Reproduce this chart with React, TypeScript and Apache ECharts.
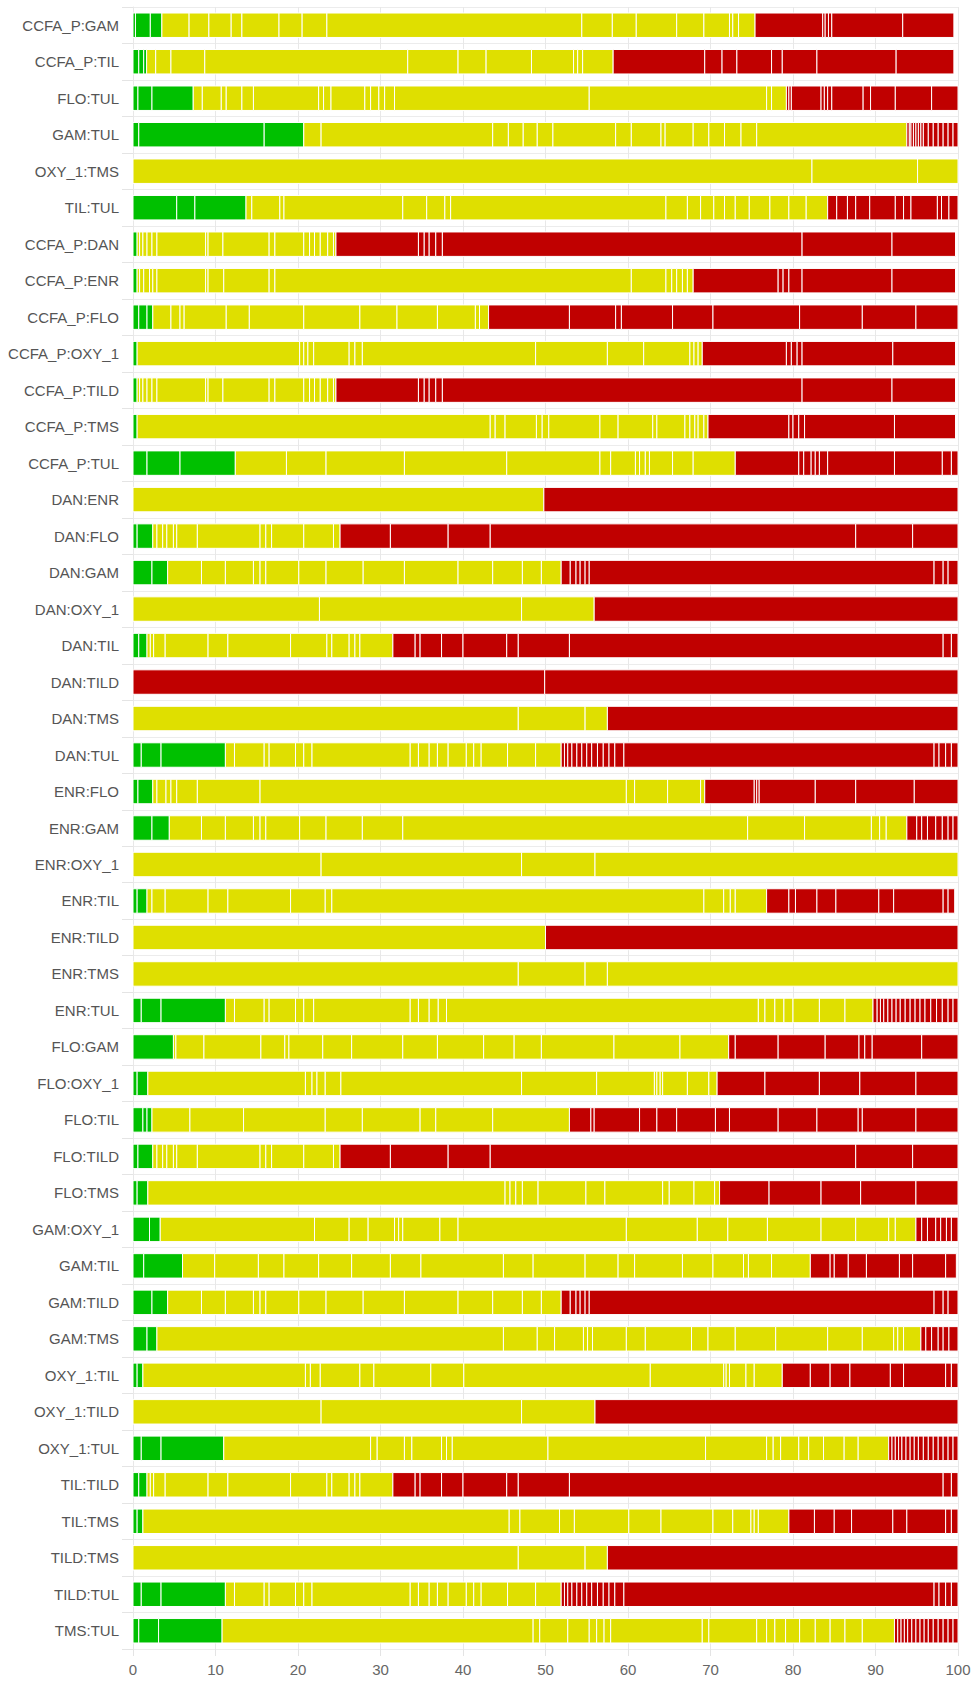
import React, { useEffect, useRef } from "react";
import * as echarts from "echarts";

const categories = [
  "CCFA_P:GAM", "CCFA_P:TIL", "FLO:TUL", "GAM:TUL", "OXY_1:TMS", "TIL:TUL",
  "CCFA_P:DAN", "CCFA_P:ENR", "CCFA_P:FLO", "CCFA_P:OXY_1", "CCFA_P:TILD", "CCFA_P:TMS",
  "CCFA_P:TUL", "DAN:ENR", "DAN:FLO", "DAN:GAM", "DAN:OXY_1", "DAN:TIL", "DAN:TILD",
  "DAN:TMS", "DAN:TUL", "ENR:FLO", "ENR:GAM", "ENR:OXY_1", "ENR:TIL", "ENR:TILD",
  "ENR:TMS", "ENR:TUL", "FLO:GAM", "FLO:OXY_1", "FLO:TIL", "FLO:TILD", "FLO:TMS",
  "GAM:OXY_1", "GAM:TIL", "GAM:TILD", "GAM:TMS", "OXY_1:TIL", "OXY_1:TILD",
  "OXY_1:TUL", "TIL:TILD", "TIL:TMS", "TILD:TMS", "TILD:TUL", "TMS:TUL",
];

const xTicks = [0, 10, 20, 30, 40, 50, 60, 70, 80, 90, 100];

// cumulative end positions (%) of each green segment, per row
const greenEnds: number[][] = [
  [0.3, 2.1, 3.5],
  [0.7, 1.3, 1.65],
  [0.6, 2.3, 7.3],
  [0.7, 15.9, 20.7],
  [],
  [5.3, 7.5, 13.7],
  [0.5],
  [0.5],
  [0.7, 1.7, 2.4],
  [0.5],
  [0.5],
  [0.5],
  [1.7, 5.7, 12.4],
  [],
  [0.5, 2.4],
  [2.3, 4.2],
  [],
  [0.7, 1.7],
  [],
  [],
  [1.0, 3.4, 11.2],
  [0.6, 2.4],
  [2.3, 4.4],
  [],
  [0.5, 1.7],
  [],
  [],
  [1.0, 3.4, 11.2],
  [4.9],
  [0.5, 1.8],
  [1.2, 1.7, 2.3],
  [0.6, 2.4],
  [0.5, 1.8],
  [2.0, 3.3],
  [1.3, 6.0],
  [2.3, 4.2],
  [1.7, 2.9],
  [0.5, 1.2],
  [],
  [1.0, 3.4, 11.0],
  [0.7, 1.7],
  [0.5, 1.2],
  [],
  [1.0, 3.4, 11.2],
  [0.7, 3.1, 10.8],
];

// cumulative end positions (%) of each yellow segment, per row
const yellowEnds: number[][] = [
  [6.8, 9.2, 11.9, 13.2, 17.7, 20.5, 23.5, 54.4, 58.1, 61.0, 65.9, 69.2, 72.3, 72.7, 73.4, 75.4],
  [2.75, 4.6, 8.7, 33.3, 39.4, 42.8, 48.3, 53.4, 53.9, 54.5, 58.2],
  [8.4, 10.7, 11.3, 13.2, 14.6, 22.5, 23.1, 24.0, 28.1, 28.8, 29.8, 30.5, 31.7, 55.3, 76.8, 77.4, 79.2],
  [22.8, 43.6, 45.5, 47.3, 49.0, 50.9, 58.5, 60.4, 64.0, 64.5, 67.9, 69.8, 71.7, 73.7, 75.6, 93.8],
  [82.3, 95.1, 100],
  [14.4, 17.8, 18.3, 32.7, 35.6, 37.8, 38.5, 64.6, 67.2, 68.8, 70.4, 71.7, 73.0, 74.7, 77.2, 79.5, 81.6, 84.2],
  [0.8, 1.2, 1.7, 2.3, 2.9, 8.8, 9.1, 10.9, 16.5, 17.2, 20.7, 21.4, 22.0, 22.7, 23.6, 24.3, 24.6],
  [0.8, 1.3, 2.0, 2.4, 2.9, 8.8, 9.1, 11.0, 16.5, 17.2, 60.4, 64.6, 65.3, 65.9, 66.6, 67.2, 67.9],
  [4.6, 5.7, 6.2, 11.3, 14.1, 20.7, 27.5, 32.0, 36.9, 41.5, 42.0, 43.1],
  [20.2, 20.7, 21.2, 21.9, 26.2, 26.9, 27.8, 48.8, 57.5, 61.9, 67.5, 68.0, 68.5, 69.0],
  [0.8, 1.2, 1.7, 2.3, 2.9, 8.8, 9.1, 10.9, 16.5, 17.2, 20.7, 21.4, 22.0, 22.7, 23.6, 24.3, 24.6],
  [43.3, 43.9, 45.1, 48.9, 49.6, 50.4, 56.6, 58.8, 63.0, 63.5, 66.9, 67.5, 68.1, 68.5, 69.2, 69.7],
  [18.6, 23.4, 32.9, 45.3, 56.6, 57.9, 60.9, 61.4, 62.1, 62.6, 65.4, 67.9, 73.0],
  [49.8],
  [2.9, 3.6, 4.1, 4.9, 5.3, 7.8, 15.4, 16.1, 16.8, 20.7, 24.3, 25.1],
  [8.3, 11.2, 14.6, 15.4, 16.1, 20.1, 23.4, 27.9, 32.9, 39.4, 43.6, 47.2, 49.5, 51.9],
  [22.6, 47.1, 55.9],
  [2.1, 2.5, 3.9, 9.1, 11.5, 19.1, 23.5, 24.1, 26.2, 26.9, 27.5, 31.5],
  [],
  [46.7, 54.8, 57.5],
  [12.3, 15.9, 16.5, 19.7, 20.7, 21.7, 33.6, 34.6, 35.9, 36.9, 38.2, 40.4, 41.3, 42.2, 45.4, 48.8, 51.9],
  [2.9, 4.0, 4.6, 5.3, 7.8, 15.4, 59.8, 60.8, 64.8, 68.8, 69.3],
  [8.3, 11.2, 14.6, 15.4, 16.1, 20.2, 23.4, 27.8, 32.7, 74.5, 81.4, 89.5, 90.5, 91.3, 93.8],
  [22.8, 47.1, 56.0, 100],
  [2.3, 3.9, 9.1, 11.5, 19.1, 23.3, 24.1, 69.2, 71.6, 72.4, 73.0, 76.8],
  [50.0],
  [46.7, 54.8, 57.5, 100],
  [12.3, 15.9, 16.5, 19.7, 20.7, 21.9, 33.6, 34.6, 35.9, 37.0, 38.0, 75.8, 76.6, 77.8, 78.9, 80.0, 83.2, 86.3, 89.7],
  [5.2, 8.6, 15.5, 18.4, 18.9, 23.0, 26.5, 32.7, 36.9, 42.5, 46.2, 49.5, 58.3, 66.3, 72.2],
  [20.9, 21.7, 22.3, 23.3, 25.2, 47.1, 56.2, 63.2, 63.5, 63.9, 64.2, 67.2, 69.8, 70.8],
  [6.9, 13.4, 23.3, 27.8, 34.8, 36.7, 43.6, 52.9],
  [2.9, 3.6, 4.1, 4.9, 5.3, 7.8, 15.4, 16.1, 16.8, 20.7, 24.3, 25.1],
  [45.1, 45.7, 46.4, 47.2, 49.1, 54.9, 57.2, 64.2, 65.0, 68.0, 70.5, 71.1],
  [22.0, 26.2, 28.5, 31.7, 32.2, 32.7, 37.2, 39.4, 59.8, 68.4, 72.1, 76.9, 83.4, 87.6, 91.6, 92.4, 94.9],
  [9.9, 15.2, 18.3, 22.5, 26.5, 31.2, 34.9, 44.9, 48.5, 54.8, 58.8, 60.8, 66.6, 70.3, 74.0, 74.6, 77.4, 82.1],
  [8.3, 11.2, 14.6, 15.4, 16.1, 20.1, 23.4, 27.9, 32.9, 39.4, 43.6, 47.2, 49.5, 51.9],
  [44.9, 49.0, 51.1, 54.6, 55.1, 55.7, 59.8, 62.1, 67.7, 69.7, 73.0, 77.9, 84.2, 88.4, 92.2, 92.7, 93.4, 95.5],
  [20.9, 21.5, 22.7, 27.5, 29.2, 36.1, 40.1, 62.7, 71.6, 71.9, 72.3, 74.3, 75.3, 78.7],
  [22.8, 47.1, 56.0],
  [28.8, 29.6, 32.9, 33.8, 37.4, 38.0, 38.7, 50.3, 69.4, 76.8, 77.6, 78.5, 80.7, 81.9, 83.7, 86.2, 87.9, 91.6],
  [2.1, 2.5, 3.9, 9.1, 11.5, 19.1, 23.5, 24.1, 26.2, 26.9, 27.5, 31.5],
  [45.6, 46.9, 51.7, 53.5, 60.1, 64.0, 70.3, 72.7, 74.9, 75.3, 75.8, 79.5],
  [46.7, 54.8, 57.5],
  [12.3, 15.9, 16.5, 19.7, 20.7, 21.7, 33.6, 34.6, 35.9, 36.9, 38.2, 40.4, 41.3, 42.2, 45.4, 48.8, 51.9],
  [48.5, 49.3, 52.7, 55.3, 56.2, 57.1, 57.9, 69.0, 69.8, 75.6, 76.8, 77.8, 79.1, 80.8, 82.7, 84.5, 86.3, 88.4, 92.3],
];

// cumulative end positions (%) of each red segment, per row
const redEnds: number[][] = [
  [83.6, 83.9, 84.3, 84.7, 93.3, 99.5],
  [69.3, 71.4, 73.2, 77.4, 78.7, 82.9, 92.5, 99.5],
  [79.5, 79.8, 83.4, 83.8, 84.2, 84.7, 88.5, 89.4, 92.4, 96.8, 100],
  [94.1, 94.3, 94.6, 94.9, 95.2, 95.5, 95.8, 96.4, 97.0, 97.6, 98.2, 98.8, 99.4, 100],
  [],
  [85.3, 86.6, 87.6, 89.3, 92.4, 93.4, 94.3, 97.5, 98.0, 98.9, 100],
  [34.6, 35.3, 35.9, 36.7, 37.5, 81.1, 92.0, 99.7],
  [78.2, 78.8, 79.5, 81.1, 92.0, 99.7],
  [52.9, 58.5, 59.2, 65.4, 70.3, 80.8, 88.4, 94.9, 100],
  [79.2, 79.8, 80.5, 81.1, 92.1, 99.7],
  [34.6, 35.3, 35.9, 36.7, 37.5, 81.1, 92.0, 99.7],
  [79.5, 80.0, 80.7, 81.4, 92.3, 99.7],
  [80.7, 81.3, 82.2, 82.7, 83.2, 84.2, 92.3, 98.1, 99.2, 100],
  [100],
  [31.2, 38.2, 43.3, 87.6, 94.5, 100],
  [53.0, 53.7, 54.2, 54.8, 55.3, 97.1, 98.2, 98.8, 100],
  [100],
  [34.2, 34.8, 37.4, 40.0, 45.3, 46.7, 52.9, 98.2, 99.2, 100],
  [49.9, 100],
  [100],
  [52.3, 52.7, 53.2, 53.8, 54.4, 55.0, 55.6, 56.3, 57.0, 57.7, 58.4, 59.5, 97.1, 97.7, 98.5, 99.2, 100],
  [75.3, 75.6, 75.9, 82.7, 87.6, 94.7, 100],
  [95.0, 95.6, 96.3, 97.3, 98.1, 98.8, 99.4, 100],
  [],
  [79.5, 80.3, 82.9, 85.2, 90.4, 92.2, 98.2, 98.8, 99.6],
  [100],
  [],
  [90.2, 90.6, 91.0, 91.5, 92.0, 92.5, 93.0, 93.6, 94.2, 94.8, 95.4, 96.0, 96.7, 97.4, 98.1, 98.8, 99.4, 100],
  [73.0, 78.2, 83.9, 88.0, 88.7, 89.6, 95.6, 100],
  [76.6, 83.2, 88.1, 94.9, 100],
  [55.5, 55.9, 61.4, 63.5, 65.9, 70.6, 72.3, 78.2, 82.9, 87.9, 88.4, 94.9, 100],
  [31.2, 38.2, 43.3, 87.6, 94.5, 100],
  [77.1, 83.4, 88.2, 94.9, 100],
  [95.6, 96.3, 97.3, 97.9, 98.6, 99.2, 100],
  [84.5, 85.0, 86.7, 88.9, 92.9, 94.5, 98.5, 99.8],
  [53.0, 53.7, 54.2, 54.8, 55.3, 97.1, 98.2, 98.8, 100],
  [96.1, 96.8, 97.6, 98.2, 98.9, 100],
  [82.1, 84.5, 86.9, 91.8, 93.4, 98.5, 99.2, 100],
  [100],
  [92.0, 92.4, 92.8, 93.2, 93.7, 94.2, 94.7, 95.2, 95.8, 96.4, 97.0, 97.6, 98.2, 98.8, 99.4, 100],
  [34.2, 34.8, 37.4, 40.0, 45.3, 46.7, 52.9, 98.2, 99.2, 100],
  [82.6, 85.0, 87.1, 92.1, 93.8, 98.5, 99.2, 100],
  [100],
  [52.3, 52.7, 53.2, 53.8, 54.4, 55.0, 55.6, 56.3, 57.0, 57.7, 58.4, 59.5, 97.1, 97.7, 98.5, 99.2, 100],
  [92.7, 93.1, 93.5, 93.9, 94.4, 94.9, 95.4, 95.9, 96.4, 97.0, 97.6, 98.2, 98.8, 99.4, 100],
];

const COLORS = ["#00c000", "#dfdf00", "#c00000"];

function buildSegments() {
  const out: number[][] = [];
  categories.forEach((_, row) => {
    let start = 0;
    [greenEnds[row], yellowEnds[row], redEnds[row]].forEach((ends, colorIdx) => {
      (ends || []).forEach((end) => {
        out.push([row, start, end, colorIdx]);
        start = end;
      });
    });
  });
  return out;
}

export default function App() {
  const ref = useRef<HTMLDivElement>(null);
  useEffect(() => {
    if (!ref.current) return;
    const chart = echarts.init(ref.current, null, { renderer: "svg" });
    const segs = buildSegments();
    chart.setOption({
      animation: false,
      backgroundColor: "#ffffff",
      grid: { left: 133, right: 16, top: 7, bottom: 33, containLabel: false },
      xAxis: {
        type: "value",
        min: xTicks[0],
        max: xTicks[xTicks.length - 1],
        interval: 10,
        axisLine: { show: false },
        axisTick: { show: true, length: 7, lineStyle: { color: "#e4e4e4" } },
        axisLabel: {
          color: "#666",
          fontSize: 15,
          margin: 13,
          fontFamily: "Liberation Sans, Arial, sans-serif",
        },
        splitLine: { show: true, lineStyle: { color: "#e8e8e8", width: 1 } },
      },
      yAxis: {
        type: "category",
        inverse: true,
        data: categories,
        boundaryGap: true,
        axisLine: { show: true, lineStyle: { color: "#e8e8e8" } },
        axisTick: { show: true, length: 11, lineStyle: { color: "#e4e4e4" } },
        axisLabel: {
          color: "#555",
          fontSize: 15,
          margin: 14,
          fontFamily: "Liberation Sans, Arial, sans-serif",
        },
        splitLine: { show: true, lineStyle: { color: "#ececec", width: 1 } },
      },
      series: [
        {
          type: "custom",
          encode: { x: [1, 2], y: 0 },
          data: segs,
          renderItem: (params: any, api: any) => {
            const row = api.value(0);
            const s = api.value(1);
            const e = api.value(2);
            const c = api.value(3);
            const p0 = api.coord([s, row]);
            const p1 = api.coord([e, row]);
            const h = api.size([0, 1])[1] * 0.67;
            return {
              type: "rect",
              shape: { x: p0[0], y: p0[1] - h / 2, width: p1[0] - p0[0], height: h },
              style: { fill: COLORS[c], stroke: "#ffffff", lineWidth: 1 },
            };
          },
        },
      ],
    });
    return () => chart.dispose();
  }, []);
  return (
    <div
      ref={ref}
      style={{ position: "fixed", left: 0, top: 0, width: 974, height: 1682, background: "#fff" }}
    />
  );
}
